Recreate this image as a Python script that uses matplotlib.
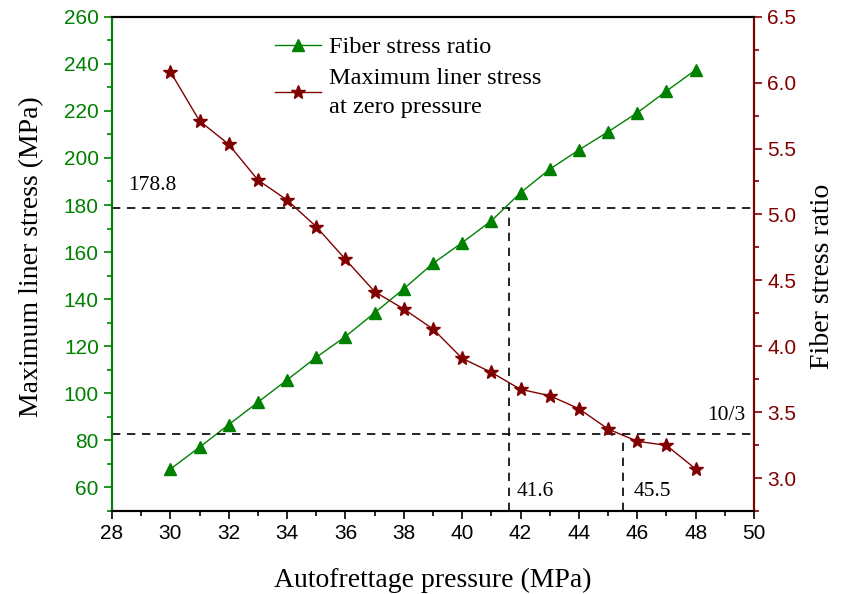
import matplotlib
matplotlib.use("Agg")
import matplotlib.pyplot as plt
from matplotlib.ticker import MultipleLocator

pressure = [30, 31, 32, 33, 34, 35, 36, 37, 38, 39, 40, 41, 42, 43, 44, 45, 46, 47, 48]
liner_stress = [67.8, 77.1, 86.7, 96.2, 105.7, 115.3, 124.1, 134.2, 144.4, 155.2,
                164.0, 173.3, 185.2, 195.2, 203.4, 211.1, 219.2, 228.4, 237.4]
fiber_ratio = [6.083, 5.709, 5.532, 5.261, 5.109, 4.907, 4.659, 4.414, 4.282, 4.131,
               3.908, 3.802, 3.673, 3.625, 3.526, 3.372, 3.279, 3.248, 3.069]
ref_stress = 178.8
ref_ratio = 10 / 3
cross_stress_x = 41.6
cross_ratio_x = 45.5

GREEN = "#008000"
RED = "#800000"
serif = "Liberation Serif"
sans = "Liberation Sans"

fig = plt.figure(figsize=(8.42, 5.94), dpi=100)
ax = fig.add_axes([0.133, 0.1397, 0.7625, 0.8322])
ax2 = ax.twinx()

l1, = ax.plot(pressure, liner_stress, color=GREEN, marker="^", markersize=8.5,
              linewidth=1.0, label="Fiber stress ratio", zorder=3)
l2, = ax2.plot(pressure, fiber_ratio, color=RED, marker="*", markersize=10,
               linewidth=1.0, label="Maximum liner stress\nat zero pressure", zorder=3)

ax.set_xlim(28, 50)
ax.set_ylim(50, 260)
ax2.set_ylim(2.75, 6.5)

# reference lines
dash = (0, (5, 4))
ax.axhline(ref_stress, color="black", linestyle=dash, linewidth=1.2)
ax.plot([cross_stress_x, cross_stress_x], [50, ref_stress], color="black",
        linestyle=dash, linewidth=1.2)
ax2.axhline(ref_ratio, color="black", linestyle=dash, linewidth=1.2)
ax2.plot([cross_ratio_x, cross_ratio_x], [2.75, ref_ratio], color="black",
         linestyle=dash, linewidth=1.2)

ax.text(28.55, 188.3, "178.8", fontsize=15.5, family=serif, va="center", ha="left")
ax.text(41.88, 58.3, "41.6", fontsize=15.5, family=serif, va="center", ha="left")
ax.text(45.89, 58.3, "45.5", fontsize=15.5, family=serif, va="center", ha="left")
ax2.text(49.7, 3.478, "10/3", fontsize=15.5, family=serif, va="center", ha="right")

# ticks
ax.xaxis.set_major_locator(MultipleLocator(2))
ax.xaxis.set_minor_locator(MultipleLocator(1))
ax.yaxis.set_major_locator(MultipleLocator(20))
ax.yaxis.set_minor_locator(MultipleLocator(10))
ax2.yaxis.set_major_locator(MultipleLocator(0.5))
ax2.yaxis.set_minor_locator(MultipleLocator(0.25))
ax2.yaxis.set_major_formatter(matplotlib.ticker.FormatStrFormatter("%.1f"))

ax.tick_params(axis="x", which="major", direction="out", length=6, width=1.2,
               labelsize=15, colors="black")
ax.tick_params(axis="x", which="minor", direction="out", length=3.5, width=1.2)
ax.tick_params(axis="y", which="major", direction="out", length=6, width=1.2,
               labelsize=15, colors=GREEN)
ax.tick_params(axis="y", which="minor", direction="out", length=3.5, width=1.2, colors=GREEN)
ax2.tick_params(axis="y", which="major", direction="out", length=6, width=1.2,
                labelsize=15, colors=RED)
ax2.tick_params(axis="y", which="minor", direction="out", length=3.5, width=1.2, colors=RED)
for lab in ax.get_xticklabels() + ax.get_yticklabels() + ax2.get_yticklabels():
    lab.set_family(sans)

for a in (ax, ax2):
    for s in a.spines.values():
        s.set_linewidth(1.5)
ax2.spines["left"].set_color(GREEN)
ax2.spines["right"].set_color(RED)
ax.spines["left"].set_color(GREEN)
ax.spines["right"].set_color(RED)

ax.set_xlabel("Autofrettage pressure (MPa)", fontsize=20, family=serif, labelpad=18)
ax.set_ylabel("Maximum liner stress (MPa)", fontsize=20, family=serif, labelpad=14)
ax2.set_ylabel("Fiber stress ratio", fontsize=20, family=serif, labelpad=10)
ax.yaxis.label.set_y(0.514)
ax2.yaxis.label.set_y(0.474)

leg = ax2.legend(handles=[l1, l2], loc="upper left", bbox_to_anchor=(0.22, 1.005),
                 frameon=False, prop={"family": serif, "size": 17.5},
                 handlelength=1.9, handletextpad=0.3, labelspacing=0.4)
for t in leg.get_texts():
    t.set_linespacing(1.5)

fig.savefig("out.png", dpi=100)
